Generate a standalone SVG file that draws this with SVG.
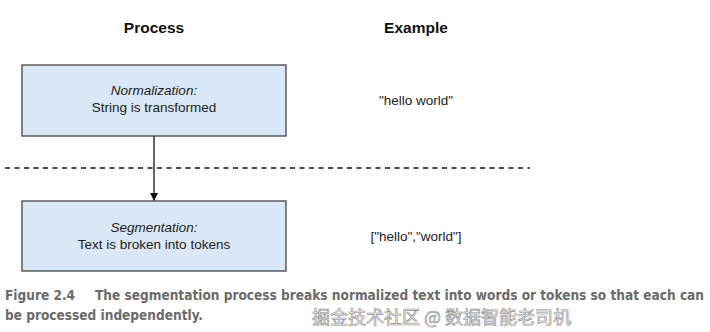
<svg xmlns="http://www.w3.org/2000/svg" width="710" height="332" viewBox="0 0 710 332">
<style>
.hdr{font-family:"Liberation Sans",Arial,sans-serif;font-size:15.5px;font-weight:bold;fill:#111;text-anchor:middle}
.box{fill:#dae7f6;stroke:#444;stroke-width:1.3}
.t{font-family:"Liberation Sans",Arial,sans-serif;font-size:13.5px;fill:#222;text-anchor:middle}
.i{font-style:italic}
.cap{font-family:"DejaVu Sans Condensed","DejaVu Sans",sans-serif;font-weight:bold;font-size:14px;fill:#6a6a6a}
.wm{font-family:"Noto Sans CJK SC",sans-serif;font-size:18px;fill:#f4f4f4;stroke:#8a8a8a;stroke-width:0.6}
</style>
<defs>
<marker id="ah" markerWidth="8" markerHeight="8" refX="7" refY="4" orient="auto" markerUnits="userSpaceOnUse">
<path d="M0,0 L8,4 L0,8 Z" fill="#111"/>
</marker>
</defs>
<rect width="710" height="332" fill="#fff"/>
<text class="hdr" x="154" y="33">Process</text>
<text class="hdr" x="416" y="33">Example</text>
<g id="normalization">
<rect class="box" x="22" y="65" width="264" height="71"/>
<text class="t i" x="154" y="95">Normalization:</text>
<text class="t" x="154" y="112">String is transformed</text>
</g>
<g id="segmentation">
<rect class="box" x="22" y="201" width="264" height="70"/>
<text class="t i" x="154" y="232">Segmentation:</text>
<text class="t" x="154" y="249">Text is broken into tokens</text>
</g>
<g id="ex1"><text class="t" x="416" y="105">"hello world"</text></g>
<g id="ex2"><text class="t" x="416" y="241">["hello","world"]</text></g>
<line x1="5" y1="168" x2="530" y2="168" stroke="#111" stroke-width="1.5" stroke-dasharray="5,4.5"/>
<g id="connectors">
<line x1="154" y1="136" x2="154" y2="200" stroke="#333" stroke-width="1.5" marker-end="url(#ah)"/>
</g>
<text class="cap" x="5" y="300" textLength="70" lengthAdjust="spacingAndGlyphs">Figure 2.4</text>
<text class="cap" x="95" y="300" textLength="609" lengthAdjust="spacingAndGlyphs">The segmentation process breaks normalized text into words or tokens so that each can</text>
<text class="cap" x="5" y="320" textLength="198" lengthAdjust="spacingAndGlyphs">be processed independently.</text>
<text class="wm" x="312" y="324">掘金技术社区 @ 数据智能老司机</text>
</svg>
